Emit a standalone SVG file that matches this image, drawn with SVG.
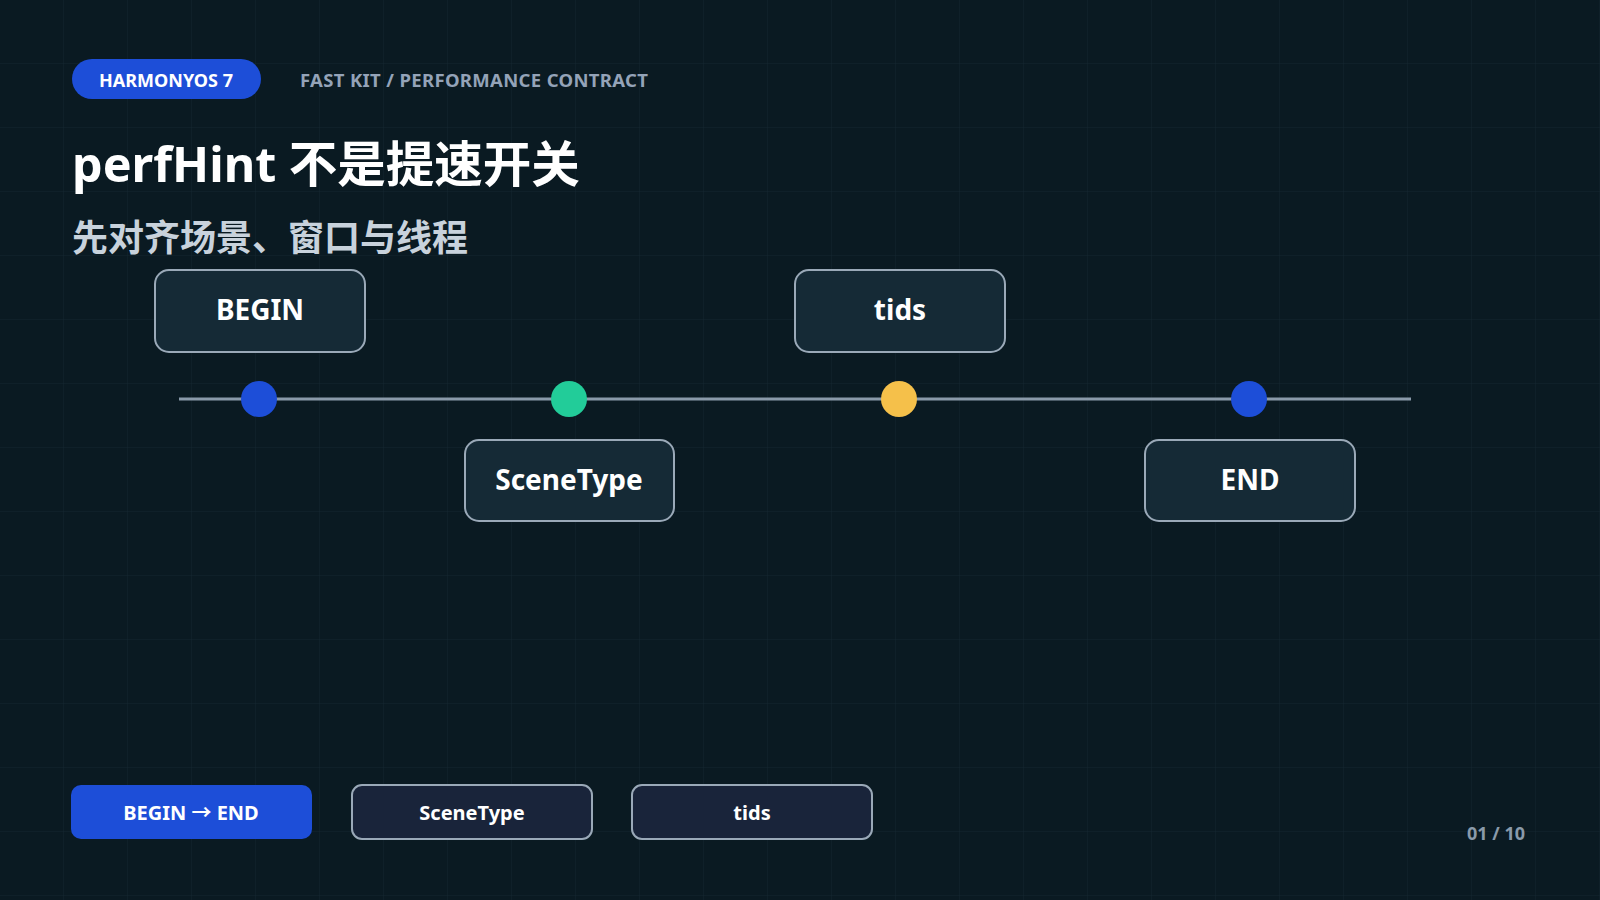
<svg xmlns="http://www.w3.org/2000/svg" width="1600" height="900" viewBox="0 0 1600 900">
<defs>
<pattern id="grid" width="64" height="64" patternUnits="userSpaceOnUse"><path d="M64 0V64M0 64H64" fill="none" stroke="#13262f" stroke-width="1"/></pattern>
<style>
text{font-family:"Noto Sans","Noto Sans CJK SC",sans-serif;font-weight:700}
.box{fill:#152a36;stroke:#9aa9b8;stroke-width:2}
.bl{fill:#fff;font-size:28px;text-anchor:middle}
.btn{fill:#19243a;stroke:#9aa9b8;stroke-width:2}
.bt{fill:#fff;font-size:20px;text-anchor:middle}
</style>
</defs>
<rect width="1600" height="900" fill="#0a1a22"/>
<rect width="1600" height="900" fill="url(#grid)"/>
<rect x="72" y="59" width="189" height="40" rx="20" fill="#1d4ed8"/>
<text x="166" y="87" fill="#fff" font-size="18" text-anchor="middle">HARMONYOS 7</text>
<text x="300" y="87" fill="#94a3b8" font-size="18.5" textLength="348">FAST KIT / PERFORMANCE CONTRACT</text>
<text x="72" y="182" fill="#fff" font-size="48.5">perfHint 不是提速开关</text>
<text x="72" y="251" fill="#c8d2dc" font-size="36">先对齐场景、窗口与线程</text>
<g id="connectors"><line x1="179" y1="399" x2="1411" y2="399" stroke="#8a9aaa" stroke-width="3"/></g>
<g id="dot1"><circle cx="259" cy="399" r="18" fill="#1d4ed8"/></g>
<g id="dot2"><circle cx="569" cy="399" r="18" fill="#22cc99"/></g>
<g id="dot3"><circle cx="899" cy="399" r="18" fill="#f5c04a"/></g>
<g id="dot4"><circle cx="1249" cy="399" r="18" fill="#1d4ed8"/></g>
<g id="begin"><rect class="box" x="155" y="270" width="210" height="82" rx="14"/><text class="bl" x="260" y="320">BEGIN</text></g>
<g id="tids"><rect class="box" x="795" y="270" width="210" height="82" rx="14"/><text class="bl" x="900" y="320">tids</text></g>
<g id="scenetype"><rect class="box" x="465" y="440" width="209" height="81" rx="14"/><text class="bl" x="569" y="490">SceneType</text></g>
<g id="end"><rect class="box" x="1145" y="440" width="210" height="81" rx="14"/><text class="bl" x="1250" y="490">END</text></g>
<g id="b1"><rect x="71" y="785" width="241" height="54" rx="10" fill="#1d4ed8"/><text class="bt" x="191" y="820">BEGIN → END</text></g>
<g id="b2"><rect class="btn" x="352" y="785" width="240" height="54" rx="10"/><text class="bt" x="472" y="820">SceneType</text></g>
<g id="b3"><rect class="btn" x="632" y="785" width="240" height="54" rx="10"/><text class="bt" x="752" y="820">tids</text></g>
<text x="1496" y="840" fill="#8a9aaa" font-size="18" text-anchor="middle">01 / 10</text>
</svg>
